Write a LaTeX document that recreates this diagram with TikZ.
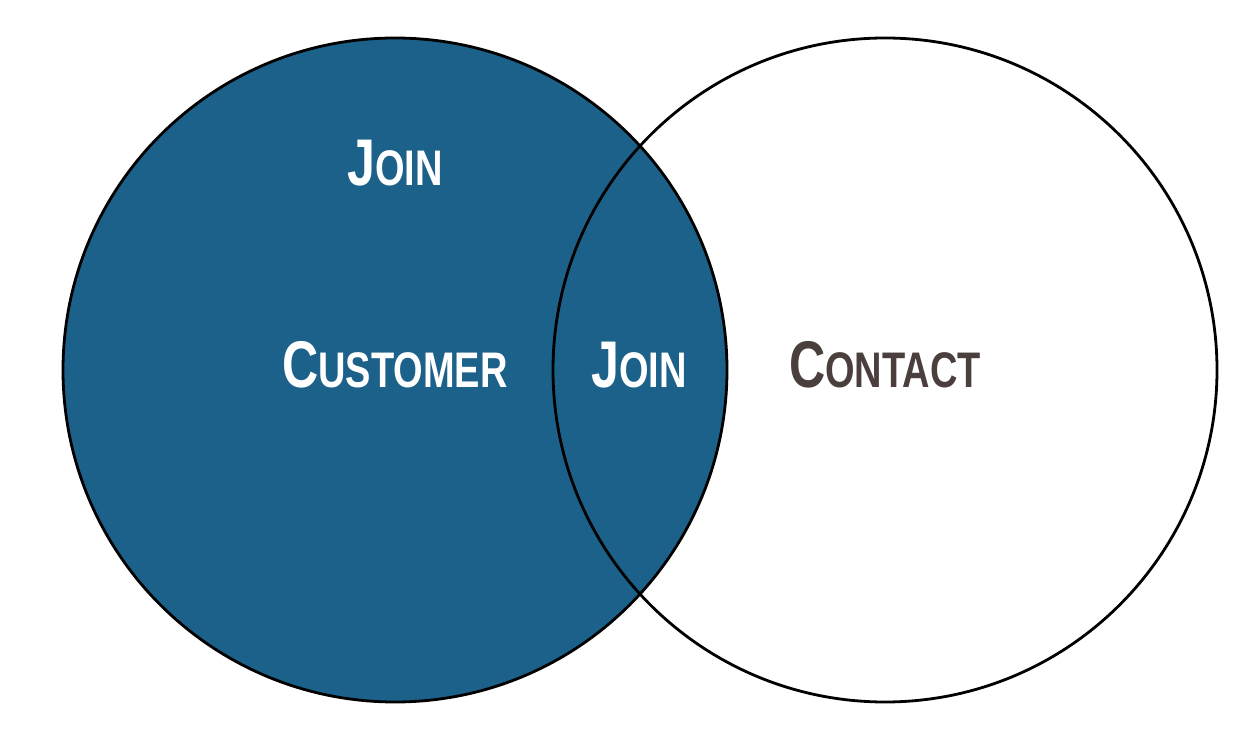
\documentclass[tikz,border=0pt]{standalone}
\usepackage{fontspec}
\newfontfamily\lblfont[FakeStretch=0.76]{Liberation Sans Bold}
\definecolor{venblue}{HTML}{1C6189}
\definecolor{contactgray}{HTML}{4A3F3D}
\newcommand{\bigsmall}[2]{{\fontsize{66}{66}\selectfont #1}{\fontsize{50}{50}\selectfont #2}}
\begin{document}
\begin{tikzpicture}[x=1pt,y=1pt,
  ring/.style={line width=2.8pt,draw=black},
  lbl/.style={font=\lblfont,anchor=base,inner sep=0pt}]
\useasboundingbox (0,0) rectangle (1252,742);
\coordinate (cl) at (395,372);
\coordinate (cr) at (885,372);
\fill[venblue] (cl) circle (332);
\fill[white] (cr) circle (332);
\begin{scope}
  \clip (cl) circle (332);
  \fill[venblue] (cr) circle (332);
\end{scope}
\draw[ring] (cl) circle (332);
\draw[ring] (cr) circle (332);
\node[lbl,text=white] (j1) at (395,556) {\bigsmall{J}{OIN}};
\node[lbl,text=white] (cu) at (395,354) {\bigsmall{C}{USTOMER}};
\node[lbl,text=white] (j2) at (639,354) {\bigsmall{J}{OIN}};
\node[lbl,text=contactgray] (co) at (885,354) {\bigsmall{C}{ONTACT}};
\end{tikzpicture}
\end{document}
